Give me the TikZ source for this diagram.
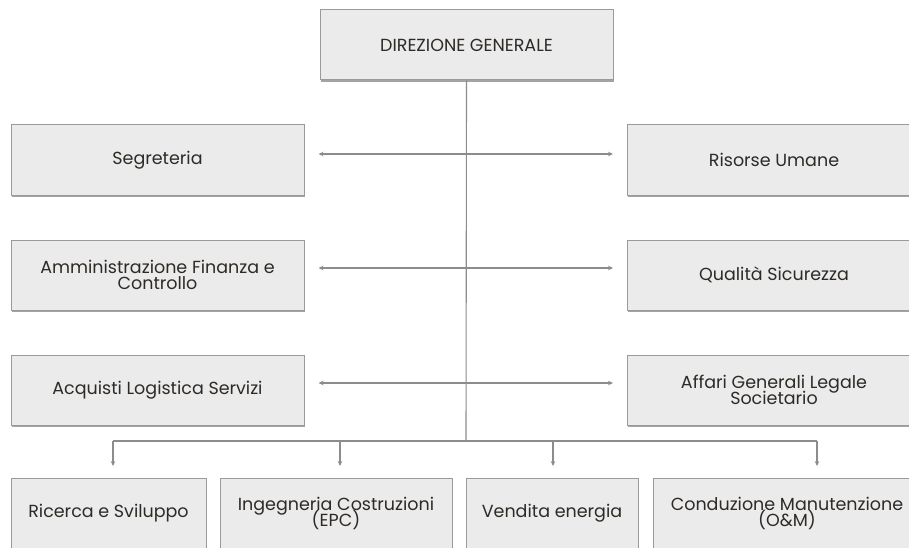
\documentclass[tikz,border=0pt]{standalone}
\usepackage{fontspec}
\setmainfont{Poppins}
\usetikzlibrary{arrows.meta,shadows}
\definecolor{boxfill}{HTML}{EBEBEB}
\definecolor{boxline}{HTML}{9A9A9A}
\definecolor{txt}{HTML}{2E2A26}
\definecolor{wire}{HTML}{8C8C8C}
\newcommand\uffont{\fontsize{17.5}{16}\selectfont\lineskiplimit=-100pt\relax}

\begin{document}
\begin{tikzpicture}[x=1pt,y=-1pt,
  ufficio/.style={draw=boxline,fill=boxfill,line width=1pt,text=txt,align=center,inner sep=0pt,
    minimum width=293pt,minimum height=70pt,font=\uffont,
    drop shadow={shadow xshift=0.6pt,shadow yshift=-1.6pt,fill=black!45,opacity=0.8}},
  linea/.style={draw=wire,line width=1.1pt},
  freccia/.style={linea,-{Stealth[length=5pt,width=4.5pt]}},
  doppia/.style={linea,{Stealth[length=5pt,width=4.5pt]}-{Stealth[length=5pt,width=4.5pt]},shorten <=14pt,shorten >=14pt}]
\clip (0,0) rectangle (909,548);
\fill[white] (0,0) rectangle (909,548);
% Direzione
\node[ufficio] (DG) at (466.5,45) {DIREZIONE GENERALE};
% Staff left
\node[ufficio] (Seg) at (157.5,160) {Segreteria};
\node[ufficio] (Amm) at (157.5,275) {Amministrazione Finanza e\\Controllo};
\node[ufficio] (Acq) at (157.5,390) {Acquisti Logistica Servizi};
% Staff right
\node[ufficio] (Ris) at (774,160) {Risorse Umane};
\node[ufficio] (Qua) at (774,275) {Qualità Sicurezza};
\node[ufficio] (Aff) at (774,390) {Affari Generali Legale\\Societario};
% Line units
\node[ufficio,minimum width=195pt] (Ric) at (108.5,513) {Ricerca e Sviluppo};
\node[ufficio,minimum width=232pt] (Ing) at (336,513) {Ingegneria Costruzioni\\(EPC)};
\node[ufficio,minimum width=172pt] (Ven) at (552,513) {Vendita energia};
\node[ufficio,minimum width=268pt] (Con) at (787,513) {Conduzione Manutenzione\\(O\&M)};

% Bus
\coordinate (bus) at (466,441);
\foreach \n/\x in {1/113,2/340,3/553,4/817}{
  \coordinate (b\n) at (\x,441);
  \coordinate (t\n) at (\x,466);
}
% Arrows
\draw[linea] (DG.south) -- (bus);
\draw[doppia] ([yshift=6pt]Seg.east) -- ([yshift=6pt]Ris.west);
\draw[doppia] ([yshift=7pt]Amm.east) -- ([yshift=7pt]Qua.west);
\draw[doppia] ([yshift=7pt]Acq.east) -- ([yshift=7pt]Aff.west);
\draw[linea] (b1) -- (b4);
\foreach \n in {1,...,4}
  \draw[freccia] (b\n) -- (t\n);
\end{tikzpicture}
\end{document}
